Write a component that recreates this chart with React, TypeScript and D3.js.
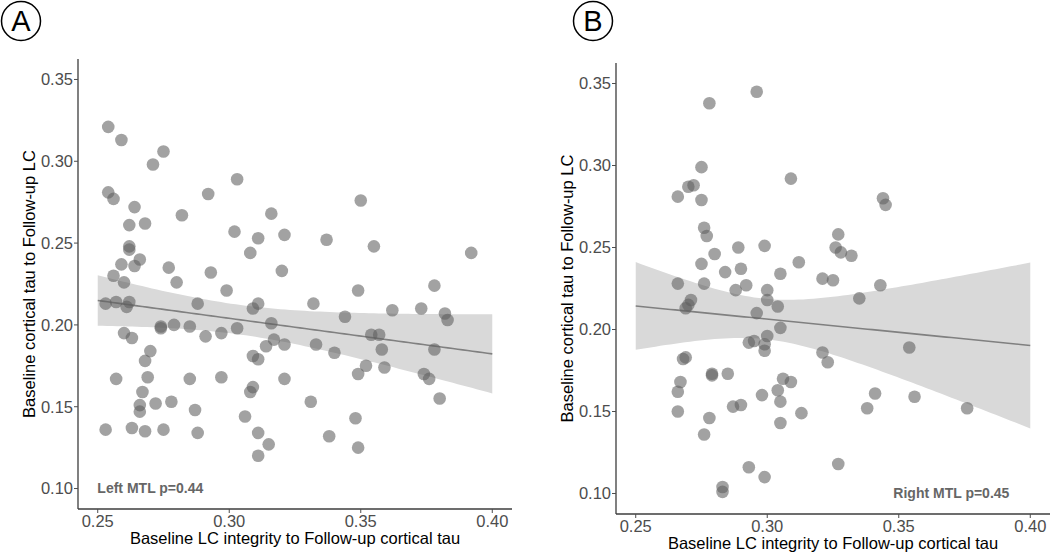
import React from 'react';
import * as d3 from 'd3';

// Left MTL: baseline LC integrity (x) vs baseline cortical tau (y)
const leftX = [
  0.254, 0.259, 0.275, 0.271, 0.303, 0.292, 0.254, 0.256, 0.264, 0.350,
  0.282, 0.316, 0.262, 0.268, 0.302, 0.311, 0.321, 0.337, 0.355, 0.392,
  0.262, 0.262, 0.308, 0.266, 0.259, 0.264, 0.277, 0.320, 0.293, 0.256,
  0.260, 0.280, 0.299, 0.349, 0.378, 0.253, 0.257, 0.261, 0.262, 0.288,
  0.309, 0.311, 0.332, 0.362, 0.373, 0.382, 0.383, 0.344, 0.279, 0.274,
  0.274, 0.285, 0.316, 0.303, 0.297, 0.291, 0.260, 0.263, 0.354, 0.357,
  0.317, 0.321, 0.314, 0.333, 0.358, 0.378, 0.340, 0.270, 0.268, 0.309,
  0.311, 0.352, 0.359, 0.349, 0.374, 0.376, 0.257, 0.269, 0.285, 0.297,
  0.321, 0.309, 0.308, 0.267, 0.380, 0.266, 0.272, 0.278, 0.331, 0.287,
  0.266, 0.306, 0.348, 0.253, 0.263, 0.268, 0.275, 0.288, 0.311, 0.338,
  0.315, 0.349, 0.311,
];
const leftY = [
  0.321, 0.313, 0.306, 0.298, 0.289, 0.280, 0.281, 0.277, 0.272, 0.276,
  0.267, 0.268, 0.261, 0.262, 0.257, 0.253, 0.255, 0.252, 0.248, 0.244,
  0.248, 0.246, 0.244, 0.240, 0.237, 0.236, 0.235, 0.233, 0.232, 0.230,
  0.226, 0.226, 0.221, 0.221, 0.224, 0.213, 0.214, 0.211, 0.214, 0.213,
  0.210, 0.213, 0.213, 0.209, 0.210, 0.207, 0.203, 0.205, 0.200, 0.199,
  0.198, 0.199, 0.201, 0.198, 0.195, 0.193, 0.195, 0.192, 0.194, 0.194,
  0.191, 0.188, 0.187, 0.188, 0.185, 0.185, 0.183, 0.184, 0.178, 0.181,
  0.179, 0.175, 0.174, 0.170, 0.170, 0.167, 0.167, 0.168, 0.167, 0.168,
  0.167, 0.162, 0.159, 0.159, 0.155, 0.151, 0.152, 0.153, 0.153, 0.148,
  0.147, 0.144, 0.143, 0.136, 0.137, 0.135, 0.136, 0.134, 0.134, 0.132,
  0.127, 0.125, 0.120,
];

// Right MTL
const rightX = [
  0.296, 0.278, 0.275, 0.309, 0.266, 0.270, 0.272, 0.275, 0.344, 0.345,
  0.276, 0.277, 0.327, 0.289, 0.299, 0.326, 0.328, 0.332, 0.280, 0.275,
  0.312, 0.284, 0.290, 0.305, 0.321, 0.325, 0.266, 0.276, 0.292, 0.343,
  0.288, 0.300, 0.300, 0.304, 0.271, 0.270, 0.269, 0.335, 0.296, 0.305,
  0.300, 0.299, 0.295, 0.293, 0.299, 0.354, 0.321, 0.323, 0.268, 0.269,
  0.279, 0.279, 0.285, 0.267, 0.306, 0.309, 0.304, 0.266, 0.298, 0.341,
  0.305, 0.356, 0.287, 0.290, 0.338, 0.376, 0.266, 0.313, 0.278, 0.305,
  0.276, 0.327, 0.293, 0.299, 0.283, 0.283,
];
const rightY = [
  0.345, 0.338, 0.299, 0.292, 0.281, 0.287, 0.288, 0.279, 0.280, 0.276,
  0.262, 0.257, 0.258, 0.250, 0.251, 0.250, 0.247, 0.245, 0.246, 0.240,
  0.241, 0.235, 0.237, 0.234, 0.231, 0.230, 0.228, 0.228, 0.227, 0.227,
  0.224, 0.224, 0.218, 0.214, 0.218, 0.215, 0.213, 0.219, 0.210, 0.201,
  0.196, 0.191, 0.193, 0.192, 0.187, 0.189, 0.186, 0.180, 0.182, 0.183,
  0.173, 0.172, 0.173, 0.168, 0.170, 0.168, 0.163, 0.162, 0.160, 0.161,
  0.156, 0.159, 0.153, 0.154, 0.152, 0.152, 0.150, 0.149, 0.146, 0.143,
  0.136, 0.118, 0.116, 0.110, 0.104, 0.101,
];

const xTicks = [0.25, 0.3, 0.35, 0.4];
const yTicks = [0.1, 0.15, 0.2, 0.25, 0.3, 0.35];
const xLimits = [0.25, 0.4];
const yLimits = [0.1, 0.35];

const xTitle = 'Baseline LC integrity to Follow-up cortical tau';
const yTitle = 'Baseline cortical tau to Follow-up LC';

const FONT = '"Liberation Sans", Arial, Helvetica, sans-serif';

// linear fit with 95% confidence band, like geom_smooth(method = "lm")
function lmBand(xs, ys) {
  const n = xs.length;
  const mx = d3.mean(xs);
  const my = d3.mean(ys);
  let sxx = 0, sxy = 0;
  for (let i = 0; i < n; i++) {
    sxx += (xs[i] - mx) ** 2;
    sxy += (xs[i] - mx) * (ys[i] - my);
  }
  const b = sxy / sxx;
  const a = my - b * mx;
  const rss = d3.sum(xs, (x, i) => (ys[i] - a - b * x) ** 2);
  const s = Math.sqrt(rss / (n - 2));
  const df = n - 2;
  const z = 1.96;
  const t = z + (z ** 3 + z) / (4 * df);
  return d3.range(81).map(i => {
    const x = xLimits[0] + (xLimits[1] - xLimits[0]) * i / 80;
    const fit = a + b * x;
    const se = s * Math.sqrt(1 / n + (x - mx) ** 2 / sxx);
    return { x, fit, lo: fit - t * se, hi: fit + t * se };
  });
}

function Panel({ xs, ys, left, top, right, bottom, label, cx, note, noteX }) {
  const xPad = (xLimits[1] - xLimits[0]) * 0.05;
  const yPad = (yLimits[1] - yLimits[0]) * 0.05;
  const x = d3.scaleLinear().domain([xLimits[0] - xPad, xLimits[1] + xPad]).range([left, right]);
  const y = d3.scaleLinear().domain([yLimits[0] - yPad, yLimits[1] + yPad]).range([bottom, top]);

  const band = lmBand(xs, ys);
  const area = d3.area().x(d => x(d.x)).y0(d => y(d.lo)).y1(d => y(d.hi));
  const line = d3.line().x(d => x(d.x)).y(d => y(d.fit));

  return (
    <g>
      <circle cx={cx} cy={21} r={19.5} fill="none" stroke="#000" strokeWidth={1.5} />
      <text x={cx} y={31} textAnchor="middle" fontFamily={FONT} fontSize={29} fill="#000">{label}</text>

      <path d={area(band)} fill="#d9d9d9" />
      <path d={line(band)} fill="none" stroke="#808080" strokeWidth={1.6} />

      {xs.map((v, i) =>
        <circle key={i} cx={x(v)} cy={y(ys[i])} r={6.3} fill="#5e5e5e" fillOpacity={0.58} />
      )}

      <line x1={left} x2={left} y1={top} y2={bottom} stroke="#3d3d3d" strokeWidth={1.3} />
      <line x1={left} x2={right} y1={bottom} y2={bottom} stroke="#3d3d3d" strokeWidth={1.3} />

      {yTicks.map(t =>
        <g key={t}>
          <line x1={left - 4} x2={left} y1={y(t)} y2={y(t)} stroke="#4d4d4d" />
          <text x={left - 5} y={y(t)} dy="0.36em" textAnchor="end" fontFamily={FONT} fontSize={16.5} fill="#4d4d4d">{d3.format('.2f')(t)}</text>
        </g>
      )}
      {xTicks.map(t =>
        <g key={t}>
          <line x1={x(t)} x2={x(t)} y1={bottom} y2={bottom + 4} stroke="#4d4d4d" />
          <text x={x(t)} y={bottom + 18} textAnchor="middle" fontFamily={FONT} fontSize={16.5} fill="#4d4d4d">{d3.format('.2f')(t)}</text>
        </g>
      )}

      <text x={(left + right) / 2} y={bottom + 35} textAnchor="middle" fontFamily={FONT} fontSize={16.5} fill="#000">{xTitle}</text>
      <text transform={`translate(${left - 43},${(top + bottom) / 2}) rotate(-90)`} textAnchor="middle" fontFamily={FONT} fontSize={16.5} fill="#000">{yTitle}</text>

      <text x={x(noteX)} y={y(0.1)} dy="0.35em" textAnchor="middle" fontFamily={FONT} fontSize={14} fontWeight="bold" fill="#666">{note}</text>
    </g>
  );
}

export default function App() {
  return (
    <svg width={1050} height={552} style={{ position: 'absolute', left: 0, top: 0, background: '#fff' }}>
      <Panel xs={leftX} ys={leftY} left={78} top={59} right={512} bottom={509}
        label="A" cx={21} note="Left MTL p=0.44" noteX={0.27} />
      <Panel xs={rightX} ys={rightY} left={616} top={63} right={1050} bottom={514}
        label="B" cx={593} note="Right MTL p=0.45" noteX={0.37} />
    </svg>
  );
}
